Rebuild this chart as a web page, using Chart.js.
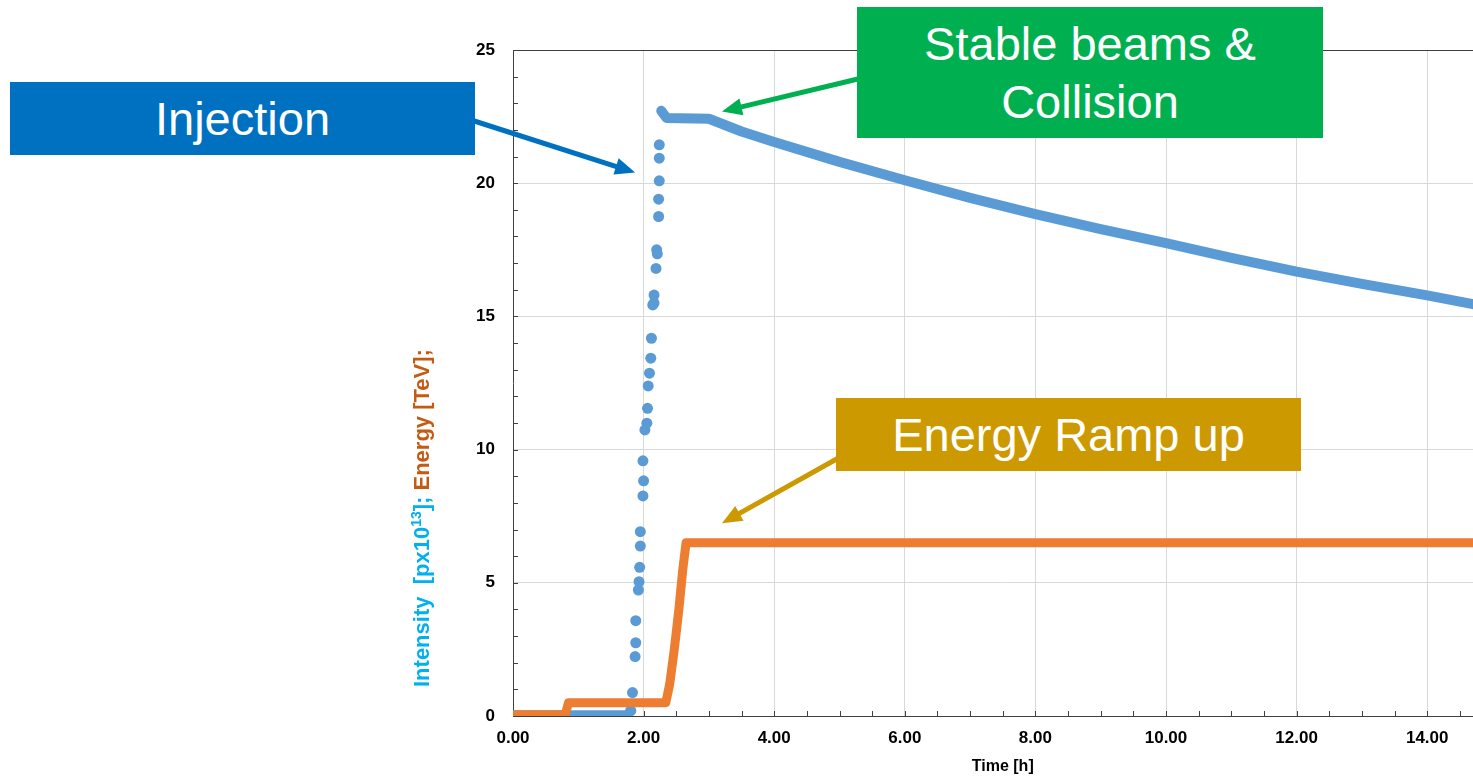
<!DOCTYPE html>
<html>
<head>
<meta charset="utf-8">
<title>LHC fill: intensity and energy</title>
<script src="https://cdn.jsdelivr.net/npm/chart.js@4/dist/chart.umd.min.js"></script>
<style>
  html, body { margin: 0; padding: 0; background: #ffffff; overflow: hidden; }
  #wrap { position: relative; width: 1473px; height: 779px; overflow: hidden; }
  #c { position: absolute; left: 0; top: 0; }
  .tag {
    position: absolute; display: flex; align-items: center; justify-content: center;
    text-align: center; color: #ffffff;
    font-family: "Liberation Sans", Arial, sans-serif; font-size: 47px; line-height: 58px;
  }
</style>
</head>
<body>
<div id="wrap">
  <canvas id="c" width="1520" height="779"></canvas>
  <div class="tag" style="left:10px;top:82px;width:465px;height:73px;background:#0070C0;">Injection</div>
  <div class="tag" style="left:857px;top:7px;width:466px;height:131px;background:#00B050;">Stable beams &amp;<br>Collision</div>
  <div class="tag" style="left:836px;top:398px;width:465px;height:73px;background:#CC9900;">Energy Ramp up</div>
</div>
<script>
// ---- Data: time in hours, intensity in 10^13 protons, energy in TeV ----

// Circulating intensity before the injections start (pilot level)
const baseTime      = [0.00, 1.72, 1.78, 1.82];
const baseIntensity = [0.05, 0.05, 0.10, 0.20];

// Intensity samples while the trains are injected
const injTime      = [1.80, 1.83, 1.87, 1.88, 1.88, 1.92, 1.93, 1.94, 1.95, 1.95,
                      1.99, 2.00, 1.99, 2.02, 2.05, 2.06, 2.07, 2.09, 2.11, 2.12,
                      2.14, 2.16, 2.16, 2.19, 2.21, 2.20, 2.23, 2.23, 2.24, 2.24, 2.24];
const injIntensity = [0.20, 0.88, 2.23, 2.75, 3.58, 4.73, 5.04, 5.58, 6.38, 6.92,
                      8.26, 8.83, 9.58, 10.74, 10.99, 11.55, 12.39, 12.87, 13.43, 14.18,
                      15.43, 15.50, 15.80, 16.80, 17.35, 17.50, 18.75, 19.40, 20.09, 20.94, 21.44];

// Stored beam: ramp, squeeze and the physics decay
const storedTime      = [2.27, 2.35, 3.00, 3.50, 4.00, 5.00, 6.00, 7.00, 8.00,
                         9.00, 10.00, 11.00, 12.00, 13.00, 14.00, 14.70];
const storedIntensity = [22.72, 22.45, 22.42, 21.94, 21.55, 20.80, 20.11, 19.45, 18.84,
                         18.28, 17.75, 17.20, 16.68, 16.22, 15.79, 15.46];

// Beam energy
const energyTime = [0.00, 0.80, 0.85, 2.34, 2.40, 2.47, 2.54, 2.60, 2.65, 14.70];
const energyTeV  = [0.05, 0.05, 0.50, 0.50, 1.20, 2.50, 4.00, 5.50, 6.50, 6.50];

// Axis ranges
const timeMax = 15;
const valueMax = 25;

// ---- Styling ----
const BLUE = '#5B9BD5';
const ORANGE = '#ED7D31';
const AXIS = '#404040';
const GRID = '#D9D9D9';
const FONT = '"Liberation Sans", Arial, sans-serif';

const pts = (xs, ys) => xs.map((x, i) => ({ x: x, y: ys[i] }));

// Callout arrows: tail in canvas pixels (under the label box), tip in data units
const callouts = [
  { from: [468, 119], tip: { x: 1.87, y: 20.40 }, color: '#0070C0' },
  { from: [862, 78],  tip: { x: 3.20, y: 22.69 }, color: '#00B050' },
  { from: [842, 456], tip: { x: 3.20, y: 7.24 },  color: '#CC9900' }
];

function drawArrow(ctx, x0, y0, x1, y1, color) {
  const a = Math.atan2(y1 - y0, x1 - x0);
  const headLen = 20, headHalf = 8.5;
  const bx = x1 - headLen * Math.cos(a), by = y1 - headLen * Math.sin(a);
  ctx.save();
  ctx.strokeStyle = color;
  ctx.fillStyle = color;
  ctx.lineWidth = 5;
  ctx.beginPath();
  ctx.moveTo(x0, y0);
  ctx.lineTo(bx + 2 * Math.cos(a), by + 2 * Math.sin(a));
  ctx.stroke();
  ctx.beginPath();
  ctx.moveTo(x1, y1);
  ctx.lineTo(bx + headHalf * Math.sin(a), by - headHalf * Math.cos(a));
  ctx.lineTo(bx - headHalf * Math.sin(a), by + headHalf * Math.cos(a));
  ctx.closePath();
  ctx.fill();
  ctx.restore();
}

// Inner tick marks, the two-colour rotated y title and the callout arrows
const decorations = {
  id: 'decorations',
  beforeDatasetsDraw(chart) {
    const { ctx, chartArea } = chart;
    const xs = chart.scales.x, ys = chart.scales.y;
    ctx.save();
    ctx.strokeStyle = AXIS;
    ctx.lineWidth = 1;
    ctx.beginPath();
    xs.ticks.forEach(t => {
      if (t.value === 0) return;
      const px = Math.round(xs.getPixelForValue(t.value)) + 0.5;
      ctx.moveTo(px, chartArea.bottom);
      ctx.lineTo(px, chartArea.bottom - 5);
    });
    ys.ticks.forEach(t => {
      if (t.value === 0) return;
      const py = Math.round(ys.getPixelForValue(t.value)) + 0.5;
      ctx.moveTo(chartArea.left, py);
      ctx.lineTo(chartArea.left + 5, py);
    });
    ctx.stroke();
    ctx.restore();
  },
  afterDraw(chart) {
    const { ctx } = chart;
    const xs = chart.scales.x, ys = chart.scales.y;

    // y axis title, read bottom-to-top
    const size = 22;
    const parts = [
      { t: 'Intensity  [px10', c: '#00B0F0', sup: false },
      { t: '13', c: '#00B0F0', sup: true },
      { t: ']; ', c: '#00B0F0', sup: false },
      { t: 'Energy [TeV];', c: '#C55A11', sup: false }
    ];
    ctx.save();
    ctx.translate(429, 687);
    ctx.rotate(-Math.PI / 2);
    ctx.textBaseline = 'alphabetic';
    ctx.textAlign = 'left';
    let cx = 0;
    parts.forEach(p => {
      const fs = p.sup ? Math.round(size * 0.62) : size;
      ctx.font = 'bold ' + fs + 'px ' + FONT;
      ctx.fillStyle = p.c;
      ctx.fillText(p.t, cx, p.sup ? -size * 0.38 : 0);
      cx += ctx.measureText(p.t).width;
    });
    ctx.restore();

    callouts.forEach(a => {
      drawArrow(ctx, a.from[0], a.from[1],
        xs.getPixelForValue(a.tip.x), ys.getPixelForValue(a.tip.y), a.color);
    });
  }
};

new Chart(document.getElementById('c'), {
  type: 'scatter',
  data: {
    datasets: [
      {
        label: 'Energy',
        data: pts(energyTime, energyTeV),
        showLine: true,
        borderColor: ORANGE,
        backgroundColor: ORANGE,
        borderWidth: 9,
        borderCapStyle: 'round',
        borderJoinStyle: 'round',
        pointRadius: 0,
        tension: 0,
        order: 0
      },
      {
        label: 'Intensity',
        data: pts(storedTime, storedIntensity),
        showLine: true,
        borderColor: BLUE,
        backgroundColor: BLUE,
        borderWidth: 10,
        borderCapStyle: 'round',
        borderJoinStyle: 'round',
        pointRadius: 0,
        tension: 0,
        order: 1
      },
      {
        label: 'Intensity (injection)',
        data: pts(injTime, injIntensity),
        showLine: false,
        backgroundColor: BLUE,
        borderColor: BLUE,
        borderWidth: 0,
        pointRadius: 5.5,
        pointHoverRadius: 5.5,
        order: 2
      },
      {
        label: 'Intensity (pilot)',
        data: pts(baseTime, baseIntensity),
        showLine: true,
        borderColor: BLUE,
        backgroundColor: BLUE,
        borderWidth: 9,
        borderCapStyle: 'round',
        borderJoinStyle: 'round',
        pointRadius: 0,
        tension: 0,
        order: 3
      }
    ]
  },
  options: {
    responsive: false,
    animation: false,
    events: [],
    layout: { padding: { left: 0, top: 50, right: 27.5, bottom: 0 } },
    plugins: { legend: { display: false }, tooltip: { enabled: false } },
    scales: {
      x: {
        type: 'linear',
        min: 0,
        max: timeMax,
        afterFit(scale) { scale.height = 63; },
        border: { display: true, color: AXIS, width: 1 },
        grid: {
          drawTicks: false,
          lineWidth: 1,
          color(ctx) {
            const v = ctx.tick ? ctx.tick.value : 0;
            return (v !== 0 && Math.abs(v % 2) < 1e-9) ? GRID : 'rgba(0,0,0,0)';
          }
        },
        ticks: {
          stepSize: 0.5,
          autoSkip: false,
          maxRotation: 0,
          padding: 12,
          color: '#000000',
          font: { family: FONT, size: 17, weight: 'bold' },
          callback(v) { return Math.abs(v % 2) < 1e-9 ? Number(v).toFixed(2) : ''; }
        },
        title: {
          display: true,
          text: 'Time [h]',
          color: '#000000',
          padding: { top: 0, bottom: 3 },
          font: { family: FONT, size: 16, weight: 'bold' }
        }
      },
      y: {
        type: 'linear',
        min: 0,
        max: valueMax,
        afterFit(scale) { scale.width = 513; },
        border: { display: true, color: AXIS, width: 1 },
        grid: {
          drawTicks: false,
          lineWidth: 1,
          color(ctx) {
            const v = ctx.tick ? ctx.tick.value : 0;
            if (v === valueMax) return AXIS;
            return (v !== 0 && v % 5 === 0) ? GRID : 'rgba(0,0,0,0)';
          }
        },
        ticks: {
          stepSize: 1,
          autoSkip: false,
          padding: 18,
          color: '#000000',
          font: { family: FONT, size: 17, weight: 'bold' },
          callback(v) { return v % 5 === 0 ? String(v) : ''; }
        }
      }
    }
  },
  plugins: [decorations]
});
</script>
</body>
</html>
